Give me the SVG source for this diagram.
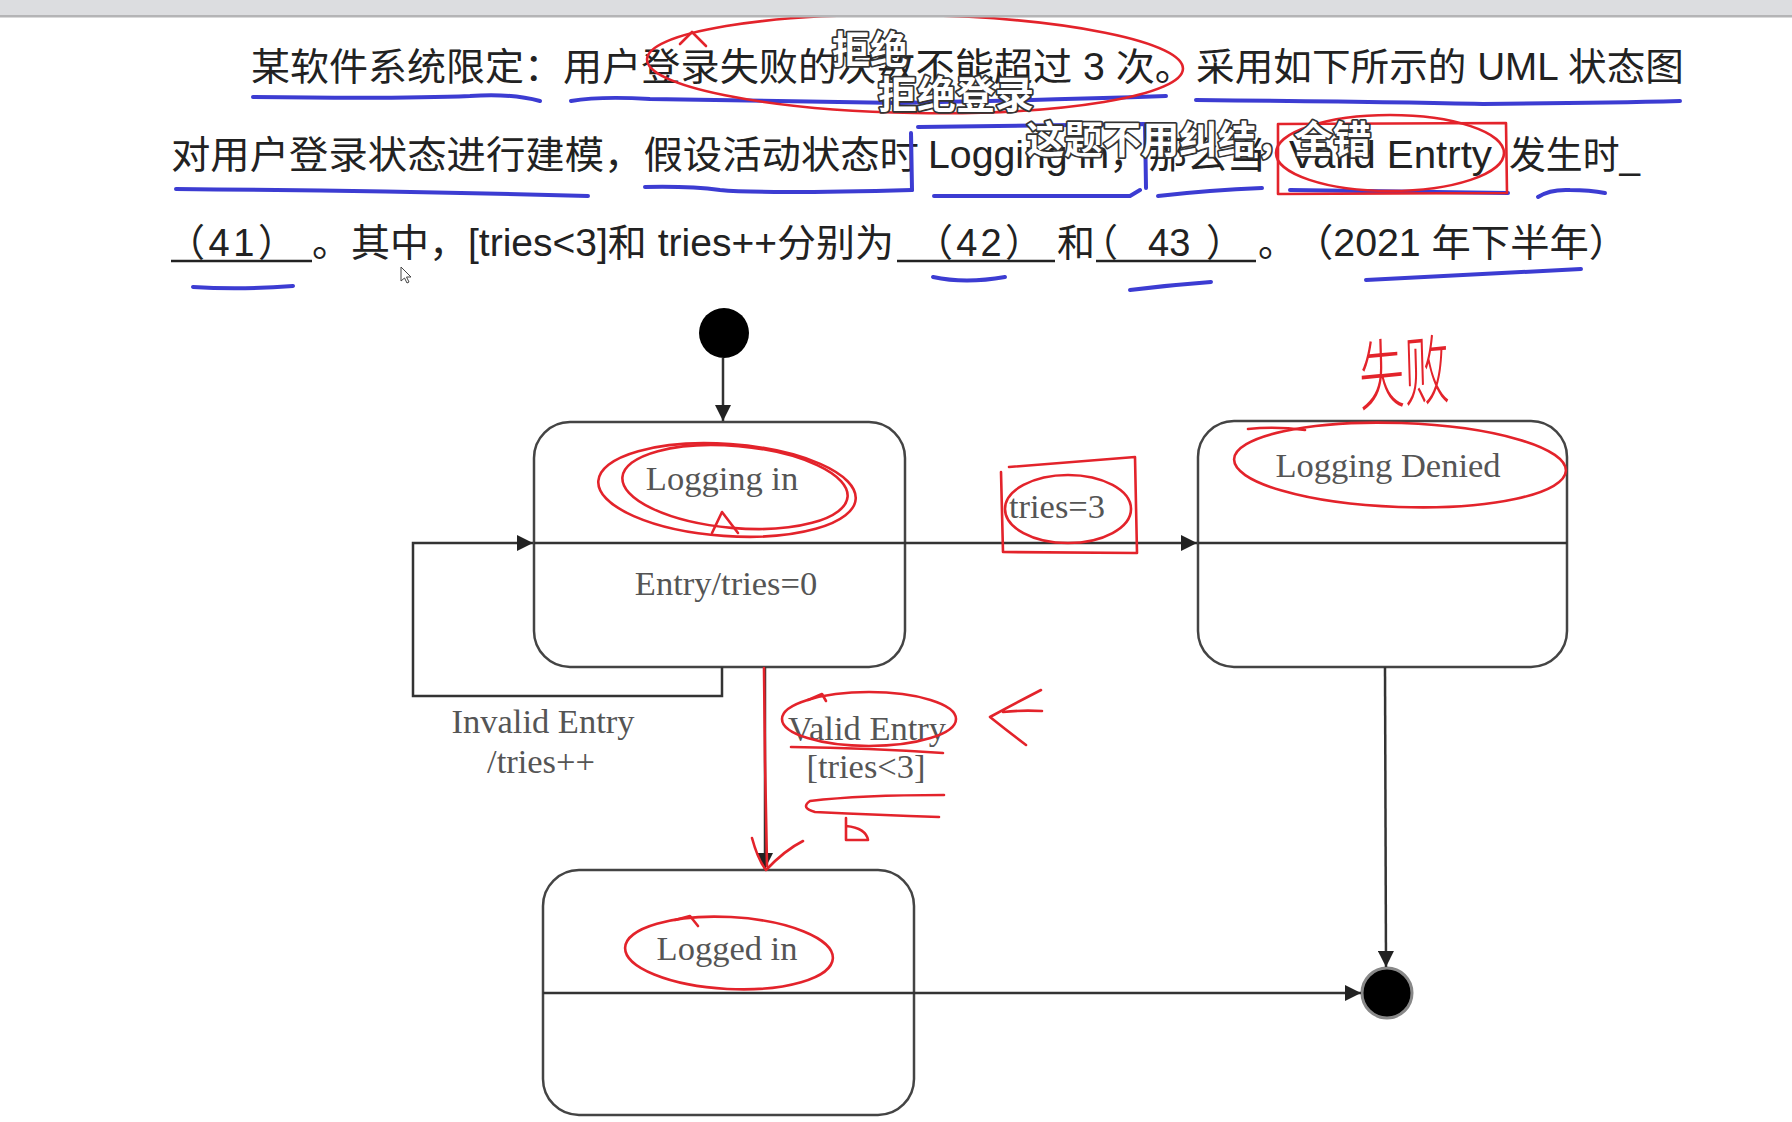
<svg xmlns="http://www.w3.org/2000/svg" width="1792" height="1122" viewBox="0 0 1792 1122">
<defs>
<style>
.q{font-family:"Liberation Sans","Noto Sans CJK SC",sans-serif;font-size:38px;fill:#222}
.sub{font-family:"Noto Sans CJK SC",sans-serif;font-weight:bold;font-size:38px;fill:#fff;stroke:#333;stroke-width:3.5;paint-order:stroke;stroke-linejoin:round}
.d{font-family:"Liberation Serif",serif;font-size:34.5px;fill:#555;text-anchor:middle}
.st{fill:#fff;stroke:#444;stroke-width:2.5}
.dv{stroke:#333;stroke-width:2.5}
.cn{fill:none;stroke:#333;stroke-width:2.5}
.red{fill:none;stroke:#e3232b;stroke-width:2.6;stroke-linecap:round;stroke-linejoin:round}
.blue{fill:none;stroke:#3c3cd2;stroke-width:4;stroke-linecap:round;stroke-linejoin:round}
.ul{stroke:#222;stroke-width:2.5}
</style>
<marker id="ah" viewBox="0 0 10 10" refX="10" refY="5" markerWidth="22" markerHeight="16" markerUnits="userSpaceOnUse" orient="auto"><path d="M0,0 L10,5 L0,10 z" fill="#222"/></marker>
</defs>
<rect width="1792" height="1122" fill="#fff"/>

<g id="question">
<text class="q" x="251" y="80" textLength="312" lengthAdjust="spacingAndGlyphs">某软件系统限定：</text>
<text class="q" x="563" y="80" textLength="631" lengthAdjust="spacingAndGlyphs">用户登录失败的次数不能超过 3 次。</text>
<text class="q" x="1196" y="80" textLength="488" lengthAdjust="spacingAndGlyphs">采用如下所示的 UML 状态图</text>
<text class="q" x="171" y="168" textLength="748" lengthAdjust="spacingAndGlyphs">对用户登录状态进行建模，假设活动状态时</text>
<text class="q" x="928" y="168" textLength="338" lengthAdjust="spacingAndGlyphs">Logging in，那么当</text>
<text class="q" x="1289" y="168" textLength="203" lengthAdjust="spacingAndGlyphs">Valid Entrty</text>
<text class="q" x="1509" y="168" textLength="131" lengthAdjust="spacingAndGlyphs">发生时_</text>
<text class="q" x="167" y="256" textLength="129" lengthAdjust="spacing">（41）</text>
<text class="q" x="312" y="256" textLength="582" lengthAdjust="spacingAndGlyphs">。其中，[tries&lt;3]和 tries++分别为</text>
<text class="q" x="915" y="256" textLength="128" lengthAdjust="spacing">（42）</text>
<text class="q" x="1057" y="256">和</text>
<text class="q" y="256"><tspan x="1080">（</tspan><tspan x="1148">43</tspan><tspan x="1206">）</tspan></text>
<text class="q" x="1258" y="256">。</text>
<text class="q" x="1294" y="256" textLength="334" lengthAdjust="spacingAndGlyphs">（2021 年下半年）</text>
<line class="ul" x1="171" y1="261" x2="312" y2="261"/>
<line class="ul" x1="897" y1="261" x2="1055" y2="261"/>
<line class="ul" x1="1096" y1="261" x2="1256" y2="261"/>
<path d="M401,267 L401,281 L404.5,278 L407,283 L409,282 L406.5,277 L411,277 Z" fill="#fff" stroke="#444" stroke-width="1"/>
</g>

<g id="blue-marks">
<path class="blue" d="M253,97 Q400,99 470,96 Q510,93 540,101"/>
<path class="blue" d="M571,101 Q600,96 650,99 L900,103 Q1050,100 1166,96"/>
<path class="blue" d="M1196,100 Q1400,102 1483,104 Q1600,103 1680,101"/>
<path class="blue" d="M176,189 Q400,191 588,196"/>
<path class="blue" d="M645,187 Q690,186 720,190 Q760,194 912,190"/>
<path class="blue" d="M912,190 L911,133 M918,127 L1145,124 L1146,188 M934,196 L1130,196 L1140,190" stroke-width="3"/>
<path class="blue" d="M1158,196 Q1210,190 1262,188"/>
<path class="blue" d="M1290,190 Q1400,192 1508,193"/>
<path class="blue" d="M1538,197 Q1550,189 1570,190 Q1590,190 1605,193"/>
<path class="blue" d="M193,287 Q240,290 293,286"/>
<path class="blue" d="M933,277 Q965,284 1005,277"/>
<path class="blue" d="M1130,290 Q1170,285 1211,282"/>
<path class="blue" d="M1366,280 Q1480,274 1581,269"/>
</g>

<g id="red-text-marks">
<ellipse class="red" cx="915" cy="64" rx="268" ry="49" transform="rotate(1 915 64)"/>
<path class="red" d="M680,44 L692,32 L706,46"/>
<ellipse class="red" cx="1390" cy="153" rx="114" ry="38"/>
<path class="red" d="M1278,124 L1278,194 L1507,193 L1506,123 L1278,124" stroke-width="2"/>
</g>

<g id="nodes">
<g id="initial"><circle cx="724" cy="333" r="25" fill="#000"/></g>
<g id="logging-in">
<rect class="st" x="534" y="422" width="371" height="245" rx="36"/>
<line class="dv" x1="534" y1="543" x2="905" y2="543"/>
<text class="d" x="722" y="490">Logging in</text>
<text class="d" x="726" y="595">Entry/tries=0</text>
</g>
<g id="logging-denied">
<rect class="st" x="1198" y="421" width="369" height="246" rx="36"/>
<line class="dv" x1="1198" y1="543" x2="1567" y2="543"/>
<text class="d" x="1388" y="477">Logging Denied</text>
</g>
<g id="logged-in">
<rect class="st" x="543" y="870" width="371" height="245" rx="36"/>
<line class="dv" x1="543" y1="993" x2="914" y2="993"/>
<text class="d" x="727" y="960">Logged in</text>
</g>
<g id="final"><circle cx="1387" cy="993" r="25" fill="#000" stroke="#888" stroke-width="3"/></g>
</g>

<g id="connectors">
<line class="cn" x1="723" y1="358" x2="723" y2="421" marker-end="url(#ah)"/>
<path class="cn" d="M722,667 L722,696 L413,696 L413,543 L533,543" marker-end="url(#ah)"/>
<line class="cn" x1="905" y1="543" x2="1197" y2="543" marker-end="url(#ah)"/>
<line class="cn" x1="1385" y1="667" x2="1386" y2="967" marker-end="url(#ah)"/>
<line class="cn" x1="765" y1="667" x2="765" y2="869" marker-end="url(#ah)"/>
<line class="cn" x1="914" y1="993" x2="1361" y2="993" marker-end="url(#ah)"/>
<text class="d" x="1057" y="518">tries=3</text>
<text class="d" x="543" y="733">Invalid Entry</text>
<text class="d" x="541" y="773">/tries++</text>
<text class="d" x="867" y="740">Valid Entry</text>
<text class="d" x="866" y="778">[tries&lt;3]</text>
</g>

<g id="red-diagram-marks">
<ellipse class="red" cx="727" cy="490" rx="129" ry="46" transform="rotate(4 727 490)"/>
<ellipse class="red" cx="735" cy="487" rx="113" ry="41" transform="rotate(5 735 487)"/>
<path class="red" d="M712,533 L722,512 L738,533"/>
<ellipse class="red" cx="1068" cy="509" rx="63" ry="34"/>
<path class="red" d="M1009,467 L1135,457 L1137,553 L1003,552 L1001,472" stroke-width="2"/>
<ellipse class="red" cx="1400" cy="465" rx="166" ry="42" transform="rotate(2 1400 465)"/>
<path class="red" d="M1248,429 Q1275,426 1305,430"/>
<text x="0" y="0" transform="translate(1360,405) scale(0.9,1.6) rotate(-3)" font-family="Noto Sans CJK SC,sans-serif" font-size="48" font-weight="300" fill="#e3232b" textLength="100" lengthAdjust="spacingAndGlyphs">失败</text>
<path class="red" d="M764,668 L765,760 L767,866"/>
<path class="red" d="M752,838 Q758,860 766,870 Q785,850 803,841"/>
<ellipse class="red" cx="869" cy="719" rx="87" ry="27"/>
<path class="red" d="M808,700 L822,694 L826,701"/>
<path class="red" d="M791,747 Q870,748 943,753"/>
<path class="red" d="M944,795 Q860,795 810,801 Q800,808 815,812 Q880,815 939,817"/>
<path class="red" d="M846,818 L846,840 L868,840 Q866,828 846,826"/>
<path class="red" d="M1041,690 Q1012,705 990,717 Q1010,733 1026,745 M1003,712 Q1020,710 1042,711"/>
<ellipse class="red" cx="729" cy="953" rx="104" ry="36" transform="rotate(3 729 953)"/>
<path class="red" d="M675,920 L690,916 L698,926"/>
</g>

<g id="subtitles">
<text class="sub" x="832" y="63">拒绝</text>
<text class="sub" x="878" y="108" textLength="156" lengthAdjust="spacingAndGlyphs">拒绝登录</text>
<text class="sub" x="1026" y="153" textLength="345" lengthAdjust="spacingAndGlyphs">这题不用纠结，全错</text>
</g>

<g id="topbar">
<rect x="0" y="0" width="1792" height="17" fill="#dcdde0"/>
<rect x="0" y="15" width="1792" height="2.5" fill="#b4b4b6"/>
</g>
</svg>
